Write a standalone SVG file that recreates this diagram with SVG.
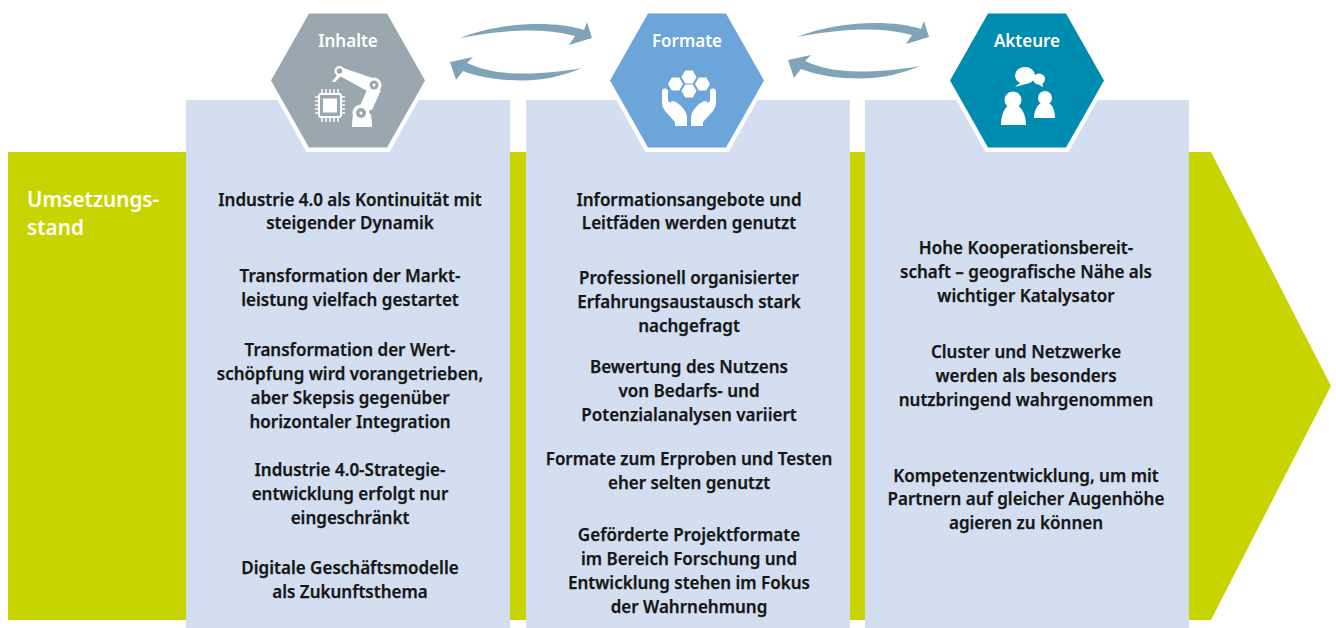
<svg xmlns="http://www.w3.org/2000/svg" width="1336" height="628" viewBox="0 0 1336 628">
<style>
.b{font-family:"Noto Sans","Liberation Sans",sans-serif;font-weight:600;font-size:17px;fill:#161615;stroke:#161615;stroke-width:.25;text-anchor:middle}
.h{font-family:"Noto Sans","Liberation Sans",sans-serif;font-weight:600;font-size:17px;fill:#fff;text-anchor:middle}
.u{font-family:"Noto Sans","Liberation Sans",sans-serif;font-weight:600;font-size:20.700px;fill:#fff}
.p{fill:#d3dff1}
.a{fill:#7fa3b7}
.i{fill:#fff}
.l{fill:none;stroke:#fff}
</style>
<defs>
<path id="hx" d="M-39-67H39L77 0 39 67H-39L-77 0Z"/>
<path id="ha" d="M-41.500-71.500H41.500L81.500 0 41.500 71.500H-41.500L-81.500 0Z"/>
<path id="sm" d="M-7.500 0L-3.750-6.500H3.750L7.500 0 3.750 6.500H-3.750Z"/>
<path id="hand" d="M664 88.500Q668 88 668 91V101L676 107L670 103L672 101Q676 101 681 106Q687 112 687 118V126H675V122L665 111Q662 107 662 103V91Q662 89 664 88.500Z"/>
<g id="arr1"><path d="M460 38C485 28 515 24 538 24C556 24 572 26 584 30L587 22L592 38L569 45L575 36C560 32 545 30.500 530 30.500C510 30.500 485 33 460 38Z"/></g>
<g id="arr2"><path d="M582 68C560 72 540 73.500 522 73.500C500 73.500 482 70 467 63L473 57L450 62L456 80L463 71C480 77.500 500 80.500 522 80.500C545 80.500 565 75 582 68Z"/></g>
</defs>
<g id="band"><path d="M8 152H1211L1331 386 1211 620H8Z" fill="#c8d400"/><text class="u" x="27" y="207">Umsetzungs-</text><text class="u" x="27" y="235">stand</text></g>
<g id="panel-inhalte"><rect class="p" x="186" y="100" width="324" height="528"/>
<text class="b"><tspan x="350" y="206">Industrie 4.0 als Kontinuität mit</tspan><tspan x="350" y="229">steigender Dynamik</tspan><tspan x="350" y="282">Transformation der Markt-</tspan><tspan x="350" y="306">leistung vielfach gestartet</tspan><tspan x="350" y="356">Transformation der Wert-</tspan><tspan x="350" y="380">schöpfung wird vorangetrieben,</tspan><tspan x="350" y="404">aber Skepsis gegenüber</tspan><tspan x="350" y="428">horizontaler Integration</tspan><tspan x="350" y="476">Industrie 4.0-Strategie-</tspan><tspan x="350" y="500">entwicklung erfolgt nur</tspan><tspan x="350" y="524">eingeschränkt</tspan><tspan x="350" y="574">Digitale Geschäftsmodelle</tspan><tspan x="350" y="598">als Zukunftsthema</tspan></text></g>
<g id="panel-formate"><rect class="p" x="526" y="100" width="324" height="528"/>
<text class="b"><tspan x="689" y="206">Informationsangebote und</tspan><tspan x="689" y="229">Leitfäden werden genutzt</tspan><tspan x="689" y="284">Professionell organisierter</tspan><tspan x="689" y="308">Erfahrungsaustausch stark</tspan><tspan x="689" y="332">nachgefragt</tspan><tspan x="689" y="373">Bewertung des Nutzens</tspan><tspan x="689" y="397">von Bedarfs- und</tspan><tspan x="689" y="421">Potenzialanalysen variiert</tspan><tspan x="689" y="465">Formate zum Erproben und Testen</tspan><tspan x="689" y="489">eher selten genutzt</tspan><tspan x="689" y="541">Geförderte Projektformate</tspan><tspan x="689" y="565">im Bereich Forschung und</tspan><tspan x="689" y="589">Entwicklung stehen im Fokus</tspan><tspan x="689" y="613">der Wahrnehmung</tspan></text></g>
<g id="panel-akteure"><rect class="p" x="865" y="100" width="324" height="528"/>
<text class="b"><tspan x="1026" y="254">Hohe Kooperationsbereit-</tspan><tspan x="1026" y="278">schaft – geografische Nähe als</tspan><tspan x="1026" y="302">wichtiger Katalysator</tspan><tspan x="1026" y="358">Cluster und Netzwerke</tspan><tspan x="1026" y="382">werden als besonders</tspan><tspan x="1026" y="406">nutzbringend wahrgenommen</tspan><tspan x="1026" y="482">Kompetenzentwicklung, um mit</tspan><tspan x="1026" y="505">Partnern auf gleicher Augenhöhe</tspan><tspan x="1026" y="529">agieren zu können</tspan></text></g>
<g id="connectors" class="a"><use href="#arr1"/><use href="#arr2"/><use href="#arr1" x="337" y="-1"/><use href="#arr2" x="338" y="-2"/></g>
<g id="node-inhalte"><use href="#ha" x="348" y="80.500" fill="#fff"/><use href="#hx" x="348" y="80.500" fill="#9aa7af"/>
<text class="h" x="348" y="47">Inhalte</text>
<rect x="319" y="94" width="22" height="23" rx="2" fill="none" stroke="#fff" stroke-width="2"/><rect x="323" y="98.500" width="14" height="14" class="i"/>
<path d="M322 89v4M326 89v4M330 89v4M334 89v4M338 89v4M322 118v4M326 118v4M330 118v4M334 118v4M338 118v4M315 97h3M315 101h3M315 105h3M315 109h3M315 113h3M342 97h3M342 101h3M342 105h3M342 109h3M342 113h3" class="l" stroke-width="1.500"/>
<path class="i" d="M342 67.500L374 78.500L369 92L338 75Z"/><path class="i" d="M367 90H381L372 110H358Z"/>
<circle class="i" cx="374" cy="85" r="7.500"/><circle class="i" cx="361" cy="113" r="8.500"/><path class="i" d="M353 114H371L372 124V127H352V124Z"/><circle class="i" cx="339.500" cy="71" r="5"/><path class="i" d="M337 75L332 82L335 82L341 76Z"/>
<circle cx="374" cy="85" r="4.500" fill="#9aa7af"/><circle cx="361" cy="113" r="5" fill="#9aa7af"/><circle cx="339.500" cy="71" r="2.800" fill="#9aa7af"/><circle cx="374" cy="85" r="1.500" class="i"/><circle cx="361" cy="113" r="1.500" class="i"/></g>
<g id="node-formate"><use href="#ha" x="687" y="80.500" fill="#fff"/><use href="#hx" x="687" y="80.500" fill="#6ba5da"/>
<text class="h" x="687" y="47">Formate</text>
<g class="i"><use href="#sm" x="689" y="77"/><use href="#sm" x="675.500" y="84"/><use href="#sm" x="702.500" y="84"/><use href="#sm" x="689" y="91"/>
<use href="#hand"/><use href="#hand" transform="matrix(-1 0 0 1 1378 0)"/></g>
</g>
<g id="node-akteure"><use href="#ha" x="1027" y="80.500" fill="#fff"/><use href="#hx" x="1027" y="80.500" fill="#008bb0"/>
<text class="h" x="1027" y="47">Akteure</text>
<g class="i"><ellipse cx="1025" cy="75.500" rx="10" ry="8.500"/><path d="M1021 82L1015 87L1029 83Z"/><ellipse cx="1039" cy="79" rx="6" ry="5.500"/><path d="M1036 83L1043 87L1042 81Z"/>
<circle cx="1013" cy="100" r="8.500"/><path d="M1013 104C1005 104 1001 115 1001 125H1026C1026 115 1021 104 1013 104Z"/><circle cx="1045" cy="98" r="7"/><path d="M1045 102C1038 102 1034 110 1034 118H1055C1055 110 1052 102 1045 102Z"/></g></g>
</svg>
